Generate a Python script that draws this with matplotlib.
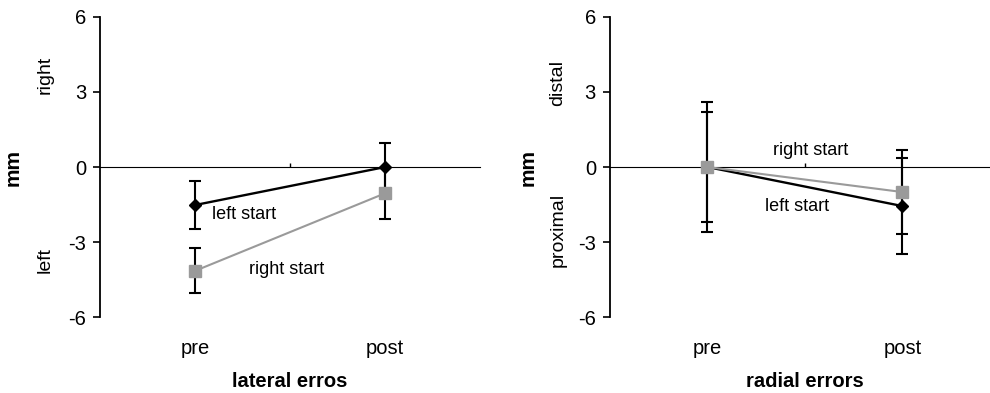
import numpy as np
import matplotlib
matplotlib.use("Agg")
import matplotlib.pyplot as plt

plt.rcParams['font.family'] = ['Liberation Sans', 'DejaVu Sans']

phases = ['pre', 'post']

# lateral errors (mm)
lat_left_start = [-1.52, 0.0]
lat_left_err = [0.97, 0.95]
lat_right_start = [-4.15, -1.05]
lat_right_err = [0.9, 1.03]

# radial errors (mm)
rad_left_start = [0.0, -1.56]
rad_left_err = [2.6, 1.92]
rad_right_start = [0.0, -1.0]
rad_right_err = [2.2, 1.68]

yticks = [-6, -3, 0, 3, 6]
GRAY = '#9a9a9a'


def draw_panel(ax, left, left_err, right, right_err, xlabel, up_word, down_word,
               up_y, down_y, word_x, label_x, notes):
    x = np.arange(len(phases))
    ax.errorbar(x, right, yerr=right_err, fmt='none', ecolor='black',
                elinewidth=1.5, capsize=4, capthick=1.5, zorder=2)
    ax.errorbar(x, left, yerr=left_err, fmt='none', ecolor='black',
                elinewidth=1.5, capsize=4, capthick=1.5, zorder=2)
    ax.plot(x, left, color='black', lw=1.7, marker='D', ms=6.5,
            mfc='black', mec='black', zorder=3)
    ax.plot(x, right, color=GRAY, lw=1.5, marker='s', ms=9,
            mfc=GRAY, mec=GRAY, zorder=4)

    ax.set_xlim(-0.5, 1.5)
    ax.set_ylim(-6, 6)
    ax.set_yticks(yticks)
    ax.set_yticklabels([str(t) for t in yticks], fontsize=14.5)
    ax.tick_params(axis='y', direction='out', length=5, width=1.2, pad=5)
    ax.set_xticks(x)
    ax.set_xticklabels(phases, fontsize=14.5)
    ax.tick_params(axis='x', length=0, pad=16)

    for side in ['top', 'right', 'bottom']:
        ax.spines[side].set_visible(False)
    ax.spines['left'].set_linewidth(1.3)

    # zero line with its middle tick
    zero = ax.secondary_xaxis(0.5)
    zero.set_xticks([0.5])
    zero.set_xticklabels([])
    zero.tick_params(length=3, width=1)
    zero.spines['bottom'].set_linewidth(1.3)

    ax.set_xlabel(xlabel, fontsize=14.5, fontweight='bold', labelpad=10)
    ax.set_ylabel('mm', fontsize=15, fontweight='bold')
    ax.yaxis.set_label_coords(label_x, 0.5)

    tr = ax.get_yaxis_transform()
    ax.text(word_x, up_y, up_word, rotation=90, ha='center', va='center',
            fontsize=14, transform=tr)
    ax.text(word_x, down_y, down_word, rotation=90, ha='center', va='center',
            fontsize=14, transform=tr)

    for tx, ty, s in notes:
        ax.text(tx, ty, s, ha='center', va='center', fontsize=13)


fig = plt.figure(figsize=(9.9, 3.93), dpi=100)
ax1 = fig.add_axes([0.101, 0.193, 0.384, 0.764])
ax2 = fig.add_axes([0.616, 0.193, 0.394, 0.764])

draw_panel(ax1, lat_left_start, lat_left_err, lat_right_start, lat_right_err,
           'lateral erros', 'right', 'left', 3.7, -3.7, -0.145, -0.203,
           [(0.26, -1.88, 'left start'), (0.48, -4.1, 'right start')])
draw_panel(ax2, rad_left_start, rad_left_err, rad_right_start, rad_right_err,
           'radial errors', 'distal', 'proximal', 3.35, -2.5, -0.133, -0.185,
           [(0.53, 0.68, 'right start'), (0.46, -1.56, 'left start')])

fig.savefig('out.png', dpi=100)
